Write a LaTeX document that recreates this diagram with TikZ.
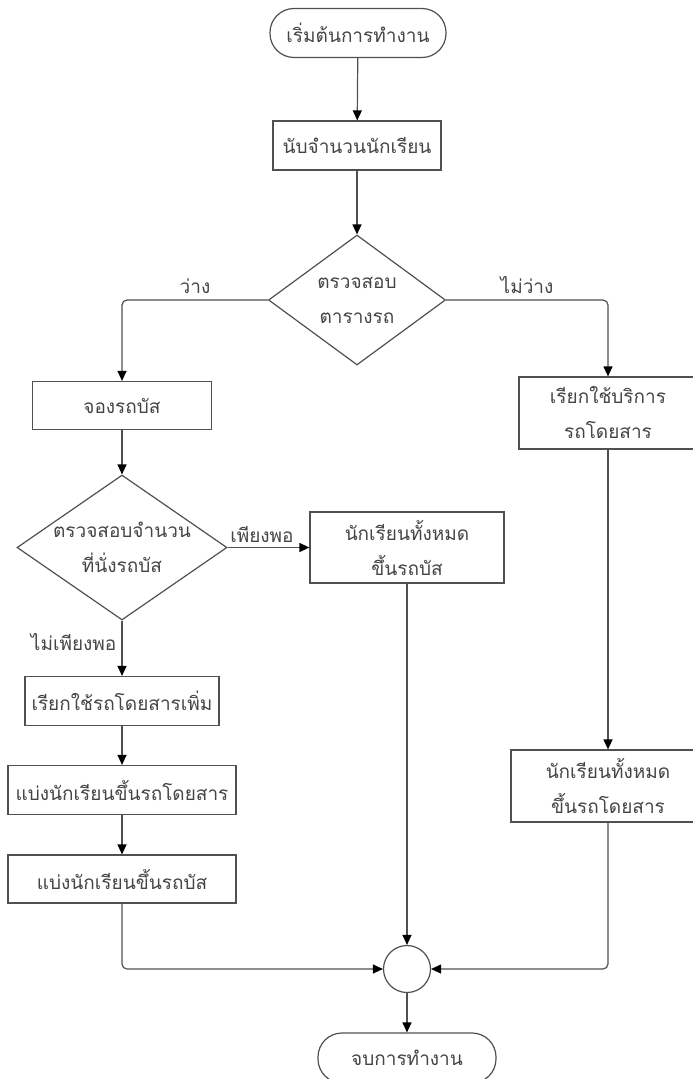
\documentclass[tikz,border=0pt]{standalone}
\usepackage{fontspec}
\newfontfamily\thaifont[Script=Thai]{Loma}
\usetikzlibrary{shapes.geometric,arrows.meta}
\definecolor{linec}{HTML}{505050}
\definecolor{txtc}{HTML}{454545}
\tikzset{
  base/.style={draw=linec, line width=1.2pt, fill=white, text=txtc, inner sep=0pt, align=center},
  procbox/.style={base, rectangle},
  termbox/.style={base, rectangle, rounded corners=24pt},
  decbox/.style={base, diamond},
  joinc/.style={base, circle, minimum size=47pt},
  conn/.style={draw=linec, line width=1.2pt, rounded corners=5pt, -{Triangle[length=10pt,width=9pt,color=black]}},
  lbl/.style={text=txtc, inner sep=2pt, align=center}
}
\begin{document}
\begin{tikzpicture}[x=1pt,y=-1pt, font=\thaifont\fontsize{19}{35}\selectfont]
\useasboundingbox (0,0) rectangle (693,1079);
\node[termbox, minimum width=176pt, minimum height=49pt] (start) at (358,33) {เริ่มต้นการทำงาน};
\node[procbox, minimum width=168pt, minimum height=49pt] (count) at (357,145.5) {นับจำนวนนักเรียน};
\node[decbox, minimum width=177pt, minimum height=130pt, label={[lbl]center:ตรวจสอบ\\ตารางรถ}] (check) at (357,300) {};
\node[procbox, minimum width=179pt, minimum height=48pt] (book) at (122,405.5) {จองรถบัส};
\node[procbox, minimum width=178pt, minimum height=72pt] (ext) at (608,413) {เรียกใช้บริการ\\รถโดยสาร};
\node[decbox, minimum width=210pt, minimum height=145pt, label={[lbl]center:ตรวจสอบจำนวน\\ที่นั่งรถบัส}] (seats) at (122,547.5) {};
\node[procbox, minimum width=194pt, minimum height=71pt] (allbus) at (407,547.5) {นักเรียนทั้งหมด\\ขึ้นรถบัส};
\node[procbox, minimum width=194pt, minimum height=49pt] (more) at (122,701) {เรียกใช้รถโดยสารเพิ่ม};
\node[procbox, minimum width=228pt, minimum height=49pt] (split1) at (122,790) {แบ่งนักเรียนขึ้นรถโดยสาร};
\node[procbox, minimum width=228pt, minimum height=48pt] (split2) at (122,879) {แบ่งนักเรียนขึ้นรถบัส};
\node[procbox, minimum width=194pt, minimum height=72pt] (allext) at (608,786) {นักเรียนทั้งหมด\\ขึ้นรถโดยสาร};
\node[joinc] (join) at (407,969) {};
\node[termbox, minimum width=178pt, minimum height=50pt] (stop) at (407,1058) {จบการทำงาน};

\draw[conn] (start) -- (count);
\draw[conn] (count) -- (check);
\draw[conn] (check.west) -| node[lbl, pos=0.25, above=4pt] {ว่าง} (book.north);
\draw[conn] (check.east) -| node[lbl, pos=0.25, above=4pt] {ไม่ว่าง} (ext.north);
\draw[conn] (book) -- (seats);
\draw[conn] (seats.east) -- node[lbl, pos=0.42, above=2pt] {เพียงพอ} (allbus.west);
\draw[conn] (seats.south) -- node[lbl, pos=0.38, left=3pt] {ไม่เพียงพอ} (more.north);
\draw[conn] (more) -- (split1);
\draw[conn] (split1) -- (split2);
\draw[conn] (split2.south) |- (join.west);
\draw[conn] (allbus.south) -- (join.north);
\draw[conn] (ext.south) -- (allext.north);
\draw[conn] (allext.south) |- (join.east);
\draw[conn] (join.south) -- (stop.north);
\end{tikzpicture}
\end{document}
